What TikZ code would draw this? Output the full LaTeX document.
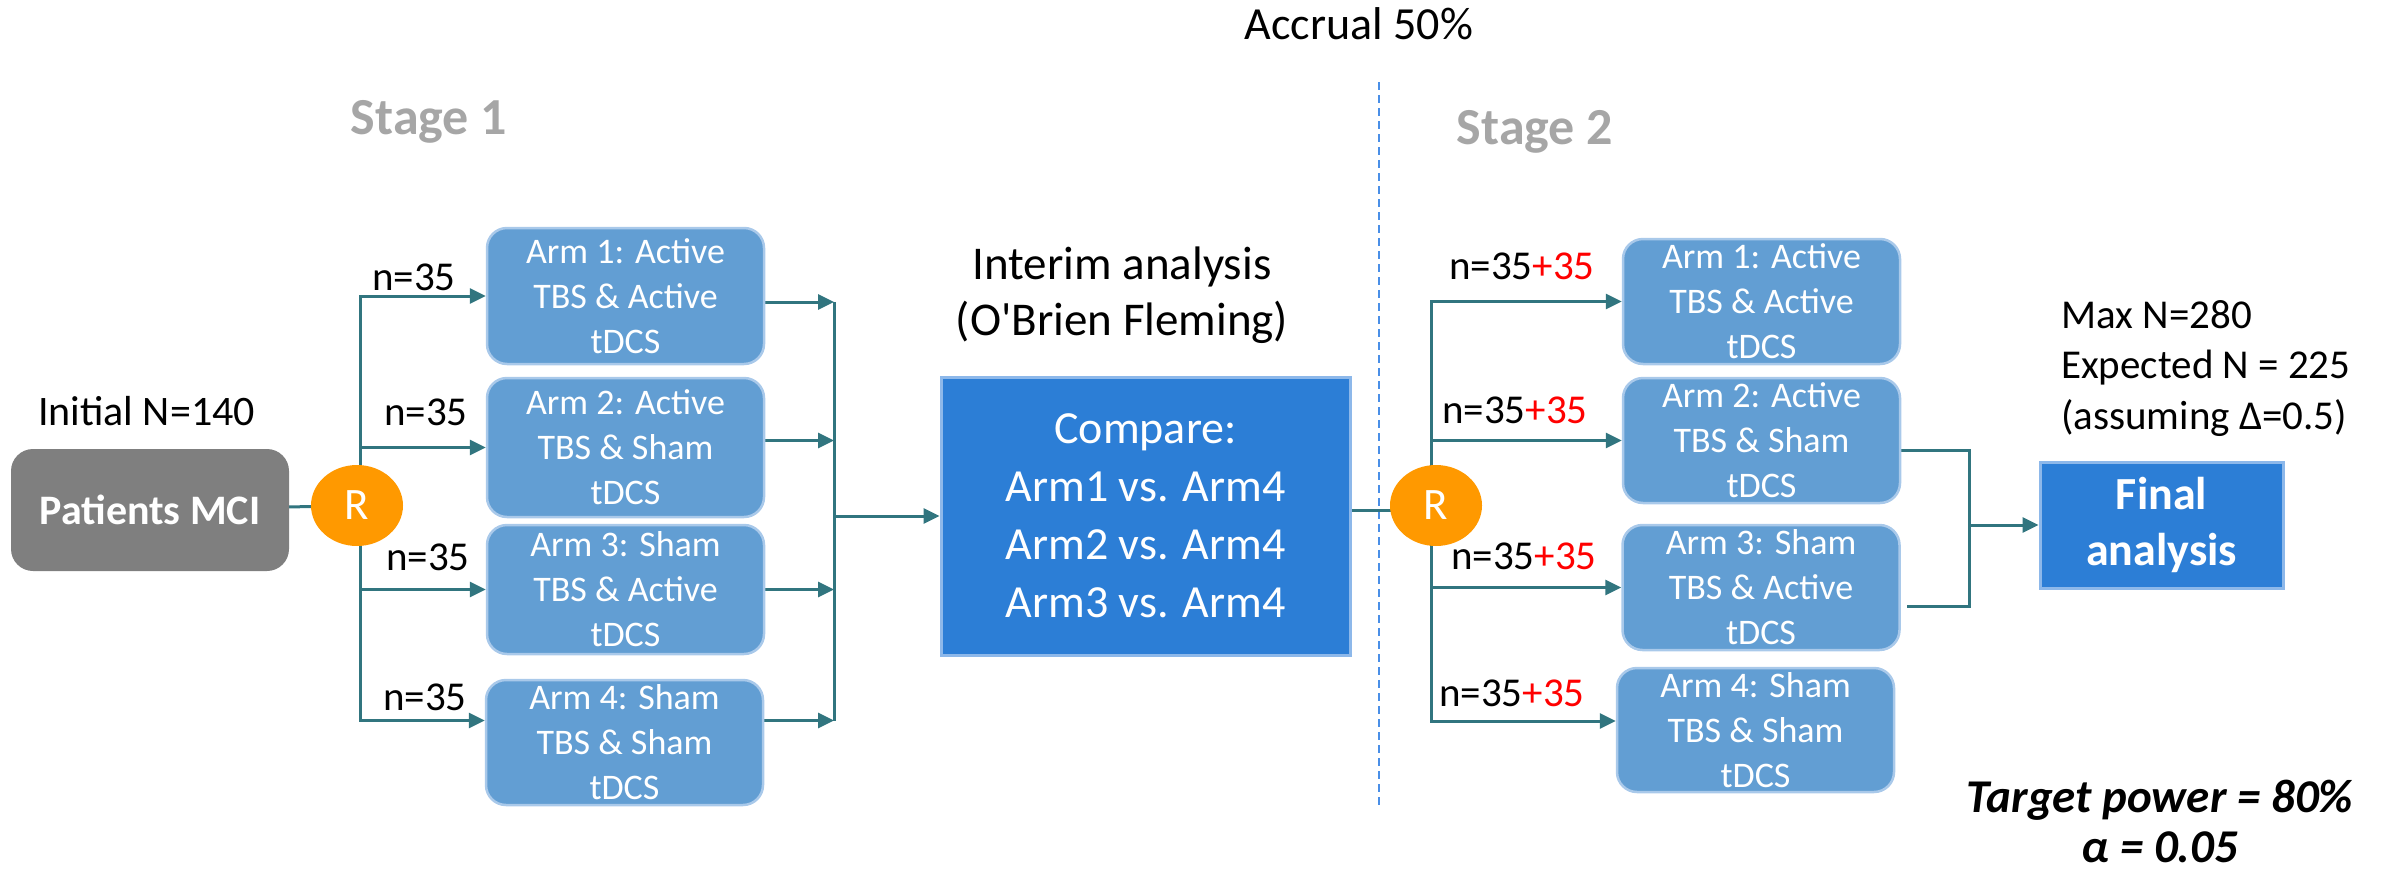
\documentclass[tikz,border=0pt]{standalone}
\usepackage{fontspec}
\setmainfont{Carlito}[Ligatures=TeXOff]
\usetikzlibrary{arrows.meta,shapes.geometric,backgrounds}
\definecolor{connc}{HTML}{31757F}
\definecolor{armfill}{HTML}{629ED3}
\definecolor{armborder}{HTML}{A9C9EA}
\definecolor{bigfill}{HTML}{2C7ED6}
\definecolor{bigborder}{HTML}{8DB8EA}
\definecolor{rorange}{HTML}{FF9900}
\definecolor{patgray}{HTML}{7F7F7F}
\definecolor{stagegray}{HTML}{A6A6A6}
\definecolor{dashc}{HTML}{4A8FE7}
\definecolor{plusred}{HTML}{FF0000}
\begin{document}
\begin{tikzpicture}[x=1pt,y=-1pt,
  armbox/.style={draw=armborder, line width=2.5pt, fill=armfill, rounded corners=20pt,
    minimum width=277pt, inner sep=0pt, align=center, text=white,
    font=\fontsize{36}{45}\selectfont},
  bigbox/.style={draw=bigborder, line width=3pt, fill=bigfill, inner sep=0pt,
    align=center, text=white},
  patbox/.style={fill=patgray, rounded corners=22pt, minimum width=278pt, minimum height=122pt,
    inner sep=0pt, text=white, font=\bfseries\fontsize{42}{50}\selectfont},
  rnode/.style={ellipse, fill=rorange, minimum width=92pt, minimum height=81pt, inner sep=0pt,
    text=white, font=\fontsize{45}{54}\selectfont},
  conn/.style={draw=connc, line width=3pt},
  arr/.style={conn, -{Triangle[length=16pt,width=15pt]}},
  lbl/.style={font=\fontsize{41}{50}\selectfont, anchor=base west, inner sep=0pt},
  plain/.style={font=\fontsize{42}{50}\selectfont, inner sep=0pt},
  stagetxt/.style={font=\bfseries\fontsize{52}{60}\selectfont, text=stagegray, anchor=base, inner sep=0pt},
]
\useasboundingbox (0,0) rectangle (2387,873);

% texts (multi-line nodes: base anchor = baseline of last line)
\node[plain, font=\fontsize{46}{54}\selectfont, anchor=base] (accr) at (1359,39) {Accrual 50\%};
\node[stagetxt] (s1) at (429,134) {Stage 1};
\node[stagetxt] (s2) at (1535,144) {Stage 2};
\node[plain, anchor=base] (init) at (146.5,425) {Initial N=140};
\node[plain, font=\fontsize{47}{56}\selectfont, align=center, anchor=base] (interim) at (1122,335)
  {Interim analysis\\(O'Brien Fleming)};
\node[plain, font=\fontsize{41}{50.5}\selectfont, align=left, anchor=base west] (maxn) at (2061,429)
  {Max N=280\\Expected N = 225\\(assuming Δ=0.5)};
\node[plain, font=\bfseries\itshape\fontsize{47}{50}\selectfont, align=center, anchor=base] (tp) at (2160,862)
  {Target power = 80\%\\α = 0.05};

% stage 1
\node[patbox] (pat) at (150,510) {Patients MCI};
\node[rnode] (r1) at (357,505.5) {R};
\coordinate (t1) at (360,505.5);
\node[armbox, minimum height=136pt] (a1) at (625.5,296) {Arm 1: Active\\TBS \& Active\\tDCS};
\node[armbox, minimum height=139pt] (a2) at (625.5,447.5) {Arm 2: Active\\TBS \& Sham\\tDCS};
\node[armbox, minimum height=129pt] (a3) at (625.5,589.5) {Arm 3: Sham\\TBS \& Active\\tDCS};
\node[armbox, minimum height=125pt] (a4) at (624.5,742.5) {Arm 4: Sham\\TBS \& Sham\\tDCS};
\node[lbl] (n1) at (372,290) {n=35};
\node[lbl] (n2) at (384,425) {n=35};
\node[lbl] (n3) at (386,570) {n=35};
\node[lbl] (n4) at (383,710) {n=35};
\coordinate (j1) at (834,516);

% interim
\node[bigbox, minimum width=409pt, minimum height=278pt, font=\fontsize{46}{58}\selectfont] (cmp) at (1145.5,516)
  {Compare:\\Arm1 vs. Arm4\\Arm2 vs. Arm4\\Arm3 vs. Arm4};

% stage 2
\node[rnode] (r2) at (1436,505.5) {R};
\coordinate (t2) at (1431,505.5);
\node[armbox, minimum height=125pt] (b1) at (1761.5,301.5) {Arm 1: Active\\TBS \& Active\\tDCS};
\node[armbox, minimum height=125pt] (b2) at (1761.5,440.5) {Arm 2: Active\\TBS \& Sham\\tDCS};
\node[armbox, minimum height=125pt] (b3) at (1761,587.5) {Arm 3: Sham\\TBS \& Active\\tDCS};
\node[armbox, minimum height=124pt] (b4) at (1755.5,730) {Arm 4: Sham\\TBS \& Sham\\tDCS};
\node[lbl] (m1) at (1449,279) {n=35\textcolor{plusred}{+35}};
\node[lbl] (m2) at (1442,423) {n=35\textcolor{plusred}{+35}};
\node[lbl] (m3) at (1451,569) {n=35\textcolor{plusred}{+35}};
\node[lbl] (m4) at (1439,706) {n=35\textcolor{plusred}{+35}};
\coordinate (j2) at (1969,525);
\node[bigbox, minimum width=243pt, minimum height=126pt, font=\bfseries\fontsize{46}{56}\selectfont] (fin) at (2161.5,525)
  {Final\\analysis};

\begin{scope}[on background layer]
  \draw[dashc, line width=2pt, dash pattern=on 8pt off 5pt] (1379,82) -- (1379,805);
  \draw[conn] (pat) -- (r1);
  \draw[arr] (t1) |- (a1.west);
  \draw[arr] (t1) |- (a2.west);
  \draw[arr] (t1) |- (a3.west);
  \draw[arr] (t1) |- ([yshift=22pt]a4.west);
  \draw[arr] ([yshift=-6pt]a1.east) -- ([yshift=-6pt]a1.east -| j1);
  \draw[arr] ([yshift=7pt]a2.east) -- ([yshift=7pt]a2.east -| j1);
  \draw[arr] (a3.east) -- (a3.east -| j1);
  \draw[arr] ([yshift=22pt]a4.east) -- ([yshift=22pt]a4.east -| j1);
  \draw[conn] ([yshift=-6pt]a1.east -| j1) -- ([yshift=22pt]a4.east -| j1);
  \draw[arr] (j1) -- (cmp.west);
  \draw[conn] ([yshift=6pt]cmp.east) -- ([yshift=6pt]cmp.east -| r2);
  \draw[arr] (t2) |- (b1.west);
  \draw[arr] (t2) |- (b2.west);
  \draw[arr] (t2) |- (b3.west);
  \draw[arr] (t2) |- ([yshift=9pt]b4.west);
  \draw[conn] ([yshift=-9.5pt]b2.east) -| (j2) |- ([xshift=6pt,yshift=-18.5pt]b3.east);
  \draw[arr] (j2) -- (fin.west);
\end{scope}
\end{tikzpicture}
\end{document}
